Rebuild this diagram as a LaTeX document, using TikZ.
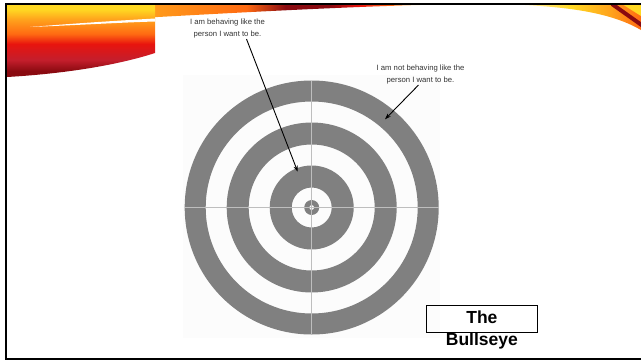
\documentclass[tikz,border=0pt]{standalone}
\usepackage{fontspec}
\setmainfont{Liberation Sans}
\usepackage{tikz}
\usetikzlibrary{arrows.meta}

\definecolor{ringgrey}{HTML}{808080}
\definecolor{crossgrey}{HTML}{BEBEBE}
\definecolor{notegrey}{HTML}{333333}
\definecolor{flameyellow}{HTML}{FFD822}
\definecolor{flameamber}{HTML}{FFA21C}
\definecolor{flameorange}{HTML}{FF6A12}
\definecolor{flamered}{HTML}{E8140E}
\definecolor{flamecrimson}{HTML}{C41E2C}
\definecolor{flamedark}{HTML}{8A0A10}
\definecolor{flamepale}{HTML}{FFE9A0}

\pgfdeclareverticalshading{flameblock}{100bp}{color(0bp)=(flamedark); color(29bp)=(flamedark); color(37bp)=(flamecrimson); color(48bp)=(flamered); color(55bp)=(flameorange); color(65bp)=(flameamber); color(72bp)=(flameyellow); color(100bp)=(flameyellow)}
\pgfdeclarehorizontalshading{flameband}{100bp}{color(0bp)=(flameamber); color(25bp)=(flameamber); color(44bp)=(flameorange); color(51bp)=(flamedark); color(59bp)=(flamedark); color(64bp)=(flamered); color(70bp)=(flameorange); color(75bp)=(flamepale); color(100bp)=(flamepale)}
\pgfdeclarehorizontalshading{flametail}{100bp}{color(0bp)=(flamepale); color(25bp)=(flamepale); color(45bp)=(flameyellow); color(62bp)=(flameamber); color(75bp)=(flameorange); color(100bp)=(flameorange)}

\begin{document}
\begin{tikzpicture}[
    x=1pt, y=-1pt,
    ring/.style     ={fill=ringgrey, even odd rule},
    crossline/.style={draw=crossgrey, line width=1.3pt},
    callout/.style  ={align=center, text=notegrey, inner sep=1pt, font=\fontsize{7.7}{11.5}\selectfont},
    pointer/.style  ={draw=black, line width=0.9pt, -{Stealth[length=6pt, width=4.2pt]}},
    titlebox/.style ={draw=black, line width=0.8pt, minimum width=111.7pt, minimum height=27.3pt, inner sep=0pt, font=\fontsize{17.5}{20}\selectfont\bfseries},
  ]
  \useasboundingbox (0,0) rectangle (641,360);

  % ---- slide decoration: flame swooshes along the top ----
  \shade[shading=flameband] (140,5) -- (420,5) .. controls (340,7) and (230,13) .. (140,18) -- cycle;
  \shade[shading=flameblock] (7,5) -- (155,5) -- (155,53) .. controls (115,66) and (60,74) .. (7,77) -- cycle;
  \fill[white] (30,27) .. controls (80,23) and (120,20.5) .. (155,18.5) -- (155,21.5) .. controls (120,22.5) and (80,25) .. (30,27) -- cycle;
  \begin{scope}
    \clip (525,5) -- (641,5) -- (641,30) .. controls (615,15) and (580,8) .. (525,5) -- cycle;
    \shade[shading=flametail] (525,5) rectangle (641,30);
    \draw[flamedark, line width=4pt] (612,4) -- (643,26);
    \fill[flameyellow] (622,4) -- (641,4) -- (641,16) -- cycle;
  \end{scope}

  % ---- slide frame ----
  \draw[black, line width=2pt] (641,4.3) -- (6,4.3) -- (6,359) -- (641,359);

  % ---- target: rings + crosshair ----
  \fill[black!1.2] (183,75) rectangle (440,338);
  \coordinate (bullcenter) at (311.7,207.5);
  \fill[ring] \foreach \r in {127,106,85,63,42,20,7.5,2.5} {(bullcenter) circle[radius=\r pt]};
  \draw[crossline] ([xshift=-127pt]bullcenter) -- ([xshift=127pt]bullcenter);
  \draw[crossline] ([yshift=-127pt]bullcenter) -- ([yshift=127pt]bullcenter);

  % ---- callouts ----
  \node[callout] (behave)    at (227.5,28.5) {I am behaving like the\\person I want to be.};
  \node[callout] (notbehave) at (420.5,74.5) {I am not behaving like the\\person I want to be.};
  \coordinate (innerhit) at (297.7,171.7);
  \coordinate (outerhit) at (385,119.3);
  \draw[pointer] ([xshift=19pt]behave.south) -- (innerhit);
  \draw[pointer] ([xshift=-2pt]notbehave.south) -- (outerhit);

  % ---- title box ----
  \node[titlebox, text depth=3.2pt] (thebox) at (481.9,318.7) {The};
  \node[font=\fontsize{17.5}{20}\selectfont\bfseries, anchor=base, inner sep=0pt] (bullword) at (481.9,345.4) {Bullseye};
\end{tikzpicture}
\end{document}
